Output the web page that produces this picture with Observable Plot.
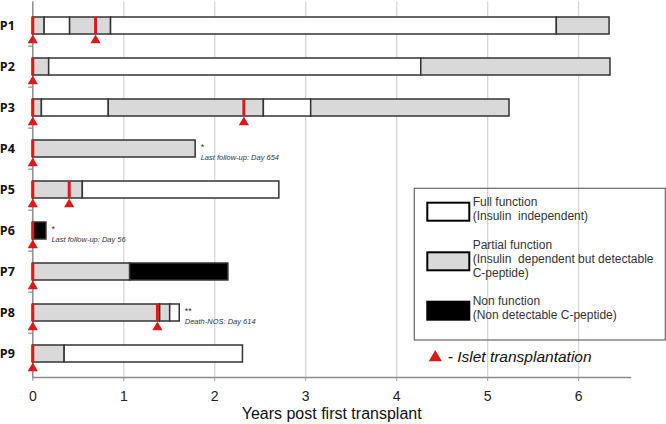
<!DOCTYPE html>
<html><head><meta charset="utf-8">
<script src="https://cdn.jsdelivr.net/npm/d3@7"></script>
<script src="https://cdn.jsdelivr.net/npm/@observablehq/plot@0.6"></script>
<style>body{margin:0;background:#fff;} #chart{width:666px;height:424px;}</style>
</head><body><div id="chart"></div>
<script>
// ---- data ----
const patients = ["P1","P2","P3","P4","P5","P6","P7","P8","P9"];
const segPatient = ["P1","P1","P1","P1","P1","P2","P2","P2","P3","P3","P3","P3","P3","P4","P5","P5","P6","P7","P7","P8","P8","P8","P9","P9"];
const segStart   = [0,0.13,0.41,0.86,5.76, 0,0.18,4.27, 0,0.10,0.835,2.54,3.06, 0, 0,0.55, 0, 0,1.07, 0,1.40,1.51, 0,0.35];
const segEnd     = [0.13,0.41,0.86,5.76,6.34, 0.18,4.27,6.35, 0.10,0.835,2.54,3.06,5.24, 1.79, 0.55,2.71, 0.15, 1.07,2.15, 1.40,1.51,1.615, 0.35,2.31];
const segState   = ["partial","full","partial","full","partial", "partial","full","partial", "partial","full","partial","full","partial", "partial", "partial","full", "none", "partial","none", "partial","partial","full", "partial","full"];
const txPatient = ["P1","P2","P3","P4","P5","P6","P7","P8","P9","P1","P3","P5","P8"];
const txTime    = [0,0,0,0,0,0,0,0,0,0.69,2.32,0.40,1.37];
const notePatient = ["P4","P6","P8"];
const noteX       = [1.79,0.15,1.615];
const noteMark    = ["*","*","**"];
const noteText    = ["Last follow-up: Day 654","Last follow-up: Day 56","Death-NOS: Day 614"];
const xTicks = [0,1,2,3,4,5,6];
const legendStates = ["full","partial","none"];
const legendLines = [["Full function","(Insulin  independent)"],["Partial function","(Insulin  dependent but detectable","C-peptide)"],["Non function","(Non detectable C-peptide)"]];
const stateColors = {full:"#ffffff", partial:"#d9d9d9", none:"#000000"};

const segs = segPatient.map((p,i)=>({p, x1:segStart[i], x2:segEnd[i], s:segState[i]}));
const tx = txPatient.map((p,i)=>({p, t:txTime[i]}));
const notes = notePatient.map((p,i)=>({p, x:noteX[i], m:noteMark[i], t:noteText[i]}));
const red = "#dd1a1a";

const chart = Plot.plot({
  width: 666, height: 424,
  marginLeft: 32.3, marginRight: 36, marginTop: 1.5, marginBottom: 47,
  style: {fontFamily: "'Liberation Sans', Arial, sans-serif", background: "#fff", overflow: "visible"},
  x: {domain: [0, 6.57]},
  y: {domain: patients, paddingInner: 0.59, paddingOuter: 0.295},
  marks: [
    Plot.gridX({ticks: [1,2,3,4,5,6], stroke: "#d6d6d6", strokeOpacity: 1, strokeWidth: 1.3}),
    Plot.ruleY(patients.slice(1), {y: d=>d, x1: -0.045, x2: 0, dy: -20.85, stroke: "#8c8c8c", strokeWidth: 1.2}),
    Plot.frame({anchor: "bottom", stroke: "#8c8c8c", strokeWidth: 1.5}),
    Plot.frame({anchor: "left", stroke: "#8c8c8c", strokeWidth: 1.5}),
    Plot.axisX({ticks: xTicks, tickSize: 4, tickPadding: 10, fontSize: 14, label: null, stroke: "#999", fill: "#222", tickFormat: d=>String(d)}),
    Plot.axisY({tickSize: 0, tickPadding: 18, fontSize: 12.5, fontWeight: "bold", label: null, fill: "#111", fontFamily: "'Open Sans', sans-serif"}),
    Plot.text(["Years post first transplant"], {frameAnchor: "bottom", dy: 36, lineAnchor: "middle", fontSize: 16, fill: "#111"}),
    Plot.barX(segs, {x1: "x1", x2: "x2", y: "p", fill: d=>stateColors[d.s], stroke: "#333", strokeWidth: 1.5}),
    Plot.tickX(tx, {x: "t", y: "p", stroke: red, strokeWidth: 3}),
    Plot.dot(tx, {x: "t", y: "p", symbol: "triangle", r: 3.8, fill: red, stroke: null, dy: 14.3}),
    Plot.text(notes, {x: "x", y: "p", text: "m", dx: 5, dy: -2, textAnchor: "start", fontSize: 9, fill: "#333"}),
    Plot.text(notes, {x: "x", y: "p", text: "t", dx: 5, dy: 9, textAnchor: "start", fontSize: 7.5, fontStyle: "italic", fill: "#333"})
  ]
});
document.getElementById("chart").appendChild(chart);

// ---- legend (overlay inside plot area) ----
const svg = d3.select(chart);
const lg = svg.append("g").attr("font-family", "'Liberation Sans', Arial, sans-serif").attr("text-anchor", "start");
lg.append("rect").attr("x", 414.3).attr("y", 188.3).attr("width", 251).attr("height", 151.7)
  .attr("fill", "none").attr("stroke", "#666").attr("stroke-width", 1.2);
const swTop = [202.7, 252.3, 301.7];
legendStates.forEach((s, i) => {
  lg.append("rect").attr("x", 427.3).attr("y", swTop[i]).attr("width", 42).attr("height", 18)
    .attr("fill", stateColors[s]).attr("stroke", "#000").attr("stroke-width", 2);
  const lines = legendLines[i];
  const center = swTop[i] + 9 - 3;
  const first = center - (lines.length - 1) * 14 / 2;
  lines.forEach((ln, j) => {
    lg.append("text").attr("x", 472.7).attr("y", first + j * 14).attr("dy", "0.35em")
      .attr("font-size", 12).attr("fill", "#333").attr("text-anchor", "start").text(ln);
  });
});
const tri = d3.symbol(d3.symbolTriangle, 75)();
lg.append("path").attr("d", tri).attr("transform", "translate(435.3,357.5)").attr("fill", red);
lg.append("text").attr("x", 447.7).attr("y", 356.5).attr("dy", "0.35em").attr("font-size", 15.5)
  .attr("font-style", "italic").attr("fill", "#111").attr("text-anchor", "start").text("- Islet transplantation");
</script></body></html>
